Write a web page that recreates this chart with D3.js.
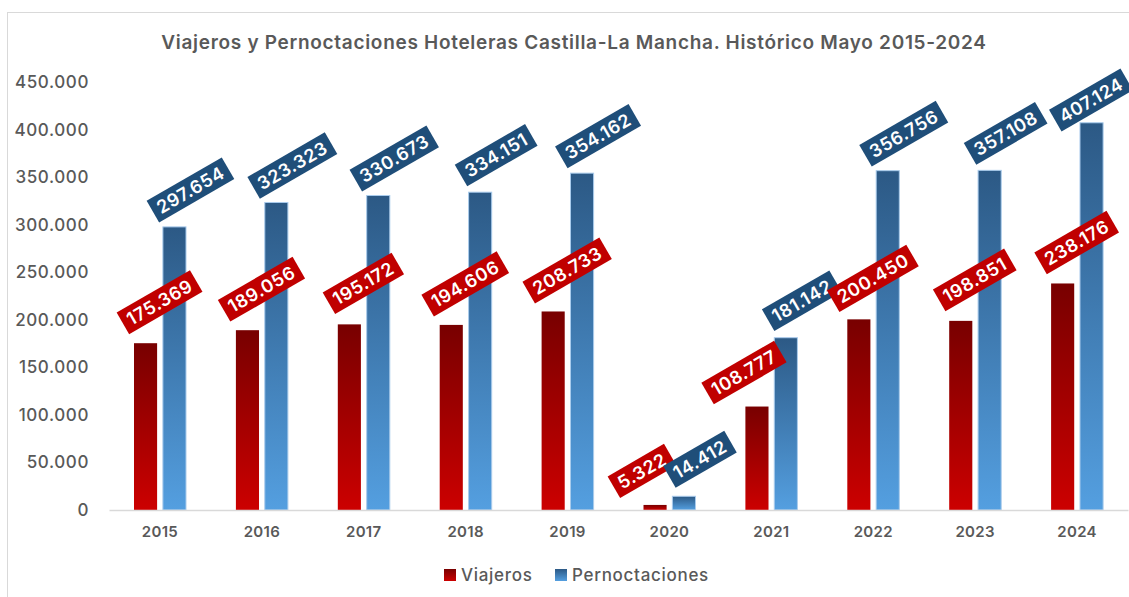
<!DOCTYPE html>
<html>
<head>
<meta charset="utf-8">
<script src="https://cdn.jsdelivr.net/npm/d3@7"></script>
<style>
  body { margin: 0; background: #fff; }
  svg { display: block; font-family: Inter, "Noto Sans", sans-serif; }
</style>
</head>
<body>
<script>
// data
const years = ['2015', '2016', '2017', '2018', '2019', '2020', '2021', '2022', '2023', '2024'];
const viajeros = [175369, 189056, 195172, 194606, 208733, 5322, 108777, 200450, 198851, 238176];
const pernoctaciones = [297654, 323323, 330673, 334151, 354162, 14412, 181142, 356756, 357108, 407124];
const seriesNames = ['Viajeros', 'Pernoctaciones'];
const yTicks = [0, 50000, 100000, 150000, 200000, 250000, 300000, 350000, 400000, 450000];

const width = 1129;
const height = 597;
const grey = '#595959';

const es = d3.formatLocale({ decimal: ',', thousands: '.', grouping: [3], currency: ['', ''] });
const fmt = es.format(',d');

const svg = d3.select('body').append('svg')
    .attr('width', width)
    .attr('height', height);

// gradients (one per series, applied per bar)
const defs = svg.append('defs');
const grads = [
    { id: 'gRed', top: '#780000', bottom: '#cc0000' },
    { id: 'gBlue', top: '#2c5985', bottom: '#549fe0' }
];
grads.forEach(g => {
    const lg = defs.append('linearGradient')
        .attr('id', g.id)
        .attr('x1', 0).attr('y1', 0).attr('x2', 0).attr('y2', 1);
    lg.append('stop').attr('offset', '0%').attr('stop-color', g.top);
    lg.append('stop').attr('offset', '100%').attr('stop-color', g.bottom);
});

// chart frame
svg.append('rect')
    .attr('x', 7.5).attr('y', 12.5)
    .attr('width', 1300).attr('height', 800)
    .attr('fill', 'none')
    .attr('stroke', '#d9d9d9');

// title
svg.append('text')
    .attr('x', 574)
    .attr('y', 49)
    .attr('text-anchor', 'middle')
    .attr('fill', grey)
    .style('font-size', '19px')
    .style('font-weight', 600)
    .style('letter-spacing', '0.7px')
    .text('Viajeros y Pernoctaciones Hoteleras Castilla-La Mancha. Histórico Mayo 2015-2024');

// scales
const x0 = d3.scaleBand().domain(years).range([109, 1128]);
const x1 = d3.scaleBand().domain(seriesNames).range([25, 77]).paddingInner(0.2);
const y = d3.scaleLinear().domain([0, 450000]).range([510, 82]);

// y axis
const yAxis = svg.append('g')
    .attr('transform', 'translate(109,0)')
    .call(d3.axisLeft(y).tickValues(yTicks).tickFormat(fmt).tickSize(0).tickPadding(20));
yAxis.select('.domain').remove();
yAxis.selectAll('text')
    .attr('fill', grey)
    .style('font-size', '17px')
    .style('font-weight', 500)
    .style('letter-spacing', '0.6px')
    .style('font-family', 'Inter, sans-serif');

// bars
const rows = years.map((yr, i) => ({ year: yr, values: [viajeros[i], pernoctaciones[i]] }));
const groups = svg.append('g').selectAll('g')
    .data(rows)
    .enter()
    .append('g')
    .attr('transform', d => `translate(${x0(d.year)},0)`);

groups.selectAll('rect')
    .data(d => d.values.map((v, k) => ({ key: seriesNames[k], value: v })))
    .enter()
    .append('rect')
    .attr('x', d => x1(d.key))
    .attr('y', d => y(d.value))
    .attr('width', x1.bandwidth())
    .attr('height', d => y(0) - y(d.value))
    .attr('fill', d => d.key === 'Viajeros' ? 'url(#gRed)' : 'url(#gBlue)')
    .attr('stroke', d => d.key === 'Viajeros' ? 'none' : '#a9cbec')
    .attr('stroke-width', 1);

// x axis
const xAxis = svg.append('g')
    .attr('transform', 'translate(0,510)')
    .call(d3.axisBottom(x0).tickSize(0).tickSizeOuter(0).tickPadding(16));
xAxis.select('.domain').attr('stroke', '#d9d9d9').attr('stroke-width', 1.5);
xAxis.selectAll('text')
    .attr('fill', grey)
    .style('font-size', '15px')
    .style('font-weight', 600)
    .style('letter-spacing', '0.3px')
    .style('font-family', 'Inter, sans-serif');

// rotated data labels
const labels = [];
rows.forEach(d => {
    const gx = x0(d.year);
    const redTop = y(d.values[0]);
    const blueTop = y(d.values[1]);
    const redCx = gx + x1('Viajeros') + x1.bandwidth() / 2;
    const blueCx = gx + x1('Pernoctaciones') + x1.bandwidth() / 2;
    // red label moves left when it would hit the blue label
    const crowded = redTop - blueTop < 80;
    labels.push({
        value: d.values[0], fill: '#c00000',
        cx: crowded ? redCx - 13 : redCx + 14,
        cy: crowded ? redTop - 34 : redTop - 41
    });
    labels.push({
        value: d.values[1], fill: '#1f4e79',
        cx: Math.min(blueCx + 16, width - 38),
        cy: Math.max(blueTop - 37, 100)
    });
});

const lab = svg.append('g').selectAll('g')
    .data(labels)
    .enter()
    .append('g')
    .attr('transform', d => `translate(${d.cx},${d.cy}) rotate(-30)`);

lab.append('text')
    .attr('text-anchor', 'middle')
    .attr('dy', '0.36em')
    .attr('fill', '#fff')
    .style('font-size', '18px')
    .style('font-weight', 600)
    .style('letter-spacing', '0.6px')
    .text(d => fmt(d.value))
    .each(function(d) { d.w = this.getComputedTextLength(); });

lab.insert('rect', 'text')
    .attr('x', d => -d.w / 2 - 6)
    .attr('y', -12.5)
    .attr('width', d => d.w + 12)
    .attr('height', 25)
    .attr('fill', d => d.fill);

// legend
const legend = svg.append('g').attr('transform', 'translate(444,569)');
const legendItems = [
    { name: 'Viajeros', fill: 'url(#gRed)', x: 0 },
    { name: 'Pernoctaciones', fill: 'url(#gBlue)', x: 111 }
];
legendItems.forEach(it => {
    legend.append('rect')
        .attr('x', it.x).attr('y', 0)
        .attr('width', 12).attr('height', 12)
        .attr('fill', it.fill);
    legend.append('text')
        .attr('x', it.x + 17)
        .attr('y', 12)
        .attr('fill', grey)
        .style('font-size', '17px')
        .style('font-weight', 500)
        .style('letter-spacing', '0.7px')
        .text(it.name);
});
</script>
</body>
</html>
